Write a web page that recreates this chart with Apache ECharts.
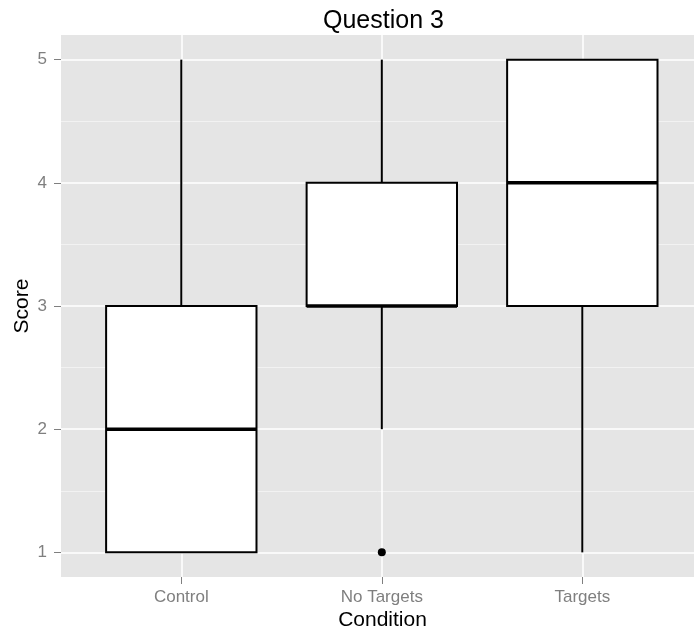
<!DOCTYPE html>
<html>
<head>
<meta charset="utf-8">
<script src="https://cdn.jsdelivr.net/npm/echarts@6/dist/echarts.min.js"></script>
<style>
  html, body { margin: 0; padding: 0; background: #fff; }
  #main { width: 694px; height: 631px; }
</style>
</head>
<body>
<div id="main"></div>
<script>
var categories = ['Control', 'No Targets', 'Targets'];
var whiskerLow = [1, 2, 1];
var q1 = [1, 3, 3];
var medians = [2, 3, 4];
var q3 = [3, 4, 5];
var whiskerHigh = [5, 5, 5];
var outliers = [[2, 1]];
var yTicks = [1, 2, 3, 4, 5];
var yMinor = [1.5, 2.5, 3.5, 4.5];
var xTicks = [1, 2, 3];

var boxData = [];
for (var i = 0; i < categories.length; i++) {
    boxData.push([i + 1, whiskerLow[i], q1[i], medians[i], q3[i], whiskerHigh[i]]);
}

// panel grid lines (ggplot grey theme)
var gridLines = [];
yMinor.forEach(function (v) {
    gridLines.push({ yAxis: v, lineStyle: { color: '#f2f2f2', width: 1, type: 'solid' } });
});
yTicks.forEach(function (v) {
    gridLines.push({ yAxis: v, lineStyle: { color: '#ffffff', width: 1.5, type: 'solid' } });
});
xTicks.forEach(function (v) {
    gridLines.push({ xAxis: v, lineStyle: { color: '#ffffff', width: 1.5, type: 'solid' } });
});

var myChart = echarts.init(document.getElementById('main'));
var option = {
    animation: false,
    title: {
        text: 'Question 3',
        left: 318,
        top: 4,
        textStyle: { fontFamily: 'Liberation Sans', fontSize: 25, fontWeight: 'normal', color: '#000' }
    },
    grid: {
        left: 61,
        right: 0,
        top: 35,
        bottom: 54,
        show: true,
        backgroundColor: '#e5e5e5',
        borderWidth: 0,
        containLabel: false,
        outerBoundsMode: 'none'
    },
    xAxis: {
        type: 'value',
        min: 0.4,
        max: 3.557,
        name: 'Condition',
        nameLocation: 'middle',
        nameGap: 33,
        nameMoveOverlap: false,
        nameTextStyle: { fontFamily: 'Liberation Sans', fontSize: 21, color: '#000', padding: [0, 0, 0, 10] },
        axisLine: { show: false },
        axisTick: { show: true, length: 7, customValues: xTicks, lineStyle: { color: '#7f7f7f', width: 1 } },
        axisLabel: {
            customValues: xTicks,
            margin: 12,
            fontFamily: 'Liberation Sans',
            fontSize: 17,
            color: '#7f7f7f',
            formatter: function (v) { return categories[Math.round(v) - 1]; }
        },
        splitLine: { show: false }
    },
    yAxis: {
        type: 'value',
        min: 0.8,
        max: 5.2,
        name: 'Score',
        nameLocation: 'middle',
        nameGap: 28,
        nameMoveOverlap: false,
        nameTextStyle: { fontFamily: 'Liberation Sans', fontSize: 21, color: '#000' },
        axisLine: { show: false },
        axisTick: { show: true, length: 7, customValues: yTicks, lineStyle: { color: '#7f7f7f', width: 1 } },
        axisLabel: {
            customValues: yTicks,
            margin: 14,
            fontFamily: 'Liberation Sans',
            fontSize: 17,
            color: '#7f7f7f'
        },
        splitLine: { show: false }
    },
    series: [
        {
            type: 'line',
            data: [],
            silent: true,
            z: 1,
            markLine: {
                silent: true,
                symbol: ['none', 'none'],
                label: { show: false },
                animation: false,
                data: gridLines
            }
        },
        {
            type: 'custom',
            z: 5,
            data: boxData,
            renderItem: function (params, api) {
                var x = api.value(0);
                var halfW = api.size([0.375, 0])[0];
                var pLow = api.coord([x, api.value(1)]);
                var pQ1 = api.coord([x, api.value(2)]);
                var pMed = api.coord([x, api.value(3)]);
                var pQ3 = api.coord([x, api.value(4)]);
                var pHigh = api.coord([x, api.value(5)]);
                var stroke = { stroke: '#000', lineWidth: 2 };
                return {
                    type: 'group',
                    children: [
                        { type: 'line', shape: { x1: pLow[0], y1: pLow[1], x2: pQ1[0], y2: pQ1[1] }, style: stroke },
                        { type: 'line', shape: { x1: pQ3[0], y1: pQ3[1], x2: pHigh[0], y2: pHigh[1] }, style: stroke },
                        {
                            type: 'rect',
                            shape: { x: pQ3[0] - halfW, y: pQ3[1], width: halfW * 2, height: pQ1[1] - pQ3[1] },
                            style: { fill: '#fff', stroke: '#000', lineWidth: 2 }
                        },
                        {
                            type: 'line',
                            shape: { x1: pMed[0] - halfW, y1: pMed[1], x2: pMed[0] + halfW, y2: pMed[1] },
                            style: { stroke: '#000', lineWidth: 3.5 }
                        }
                    ]
                };
            }
        },
        {
            type: 'scatter',
            z: 6,
            data: outliers,
            symbol: 'circle',
            symbolSize: 8,
            itemStyle: { color: '#000', opacity: 1 }
        }
    ]
};
myChart.setOption(option);
</script>
</body>
</html>
